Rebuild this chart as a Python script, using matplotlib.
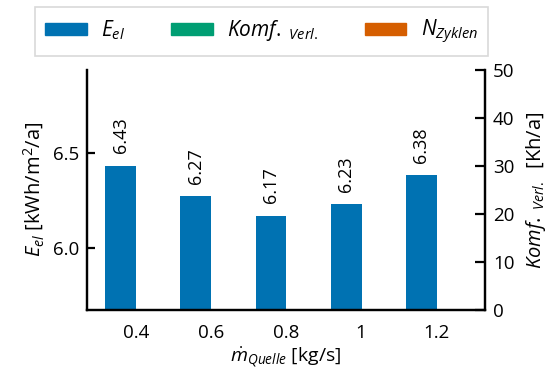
import numpy as np
import matplotlib
matplotlib.use("Agg")
import matplotlib.pyplot as plt
from matplotlib.patches import Patch

plt.rcParams['font.family'] = ['Open Sans', 'DejaVu Sans']
plt.rcParams['mathtext.fontset'] = 'custom'
plt.rcParams['mathtext.rm'] = 'Open Sans'
plt.rcParams['mathtext.it'] = 'Open Sans:italic'
plt.rcParams['mathtext.bf'] = 'Open Sans:bold'

categories = ["0.4", "0.6", "0.8", "1", "1.2"]
e_el = [6.43, 6.27, 6.17, 6.23, 6.38]

blue = "#0072B2"
green = "#009E73"
orange = "#D55E00"

fig = plt.figure(figsize=(5.49, 3.76), dpi=100)
ax = fig.add_axes([0.159, 0.176, 0.724, 0.638])
ax2 = ax.twinx()

x = np.arange(len(categories))
bars = ax.bar(x - 0.2, e_el, width=0.41, color=blue)
for xi, v in zip(x, e_el):
    ax.annotate(f"{v:.2f}", (xi - 0.2, v), xytext=(0, 9), textcoords="offset points",
                rotation=90, ha="center", va="bottom", fontsize=13)

ax.set_xlim(-0.645, 4.645)
ax.set_ylim(5.677, 6.932)
ax.set_yticks([6.0, 6.5])
ax.set_yticklabels(["6.0", "6.5"])
ax.set_xticks(x)
ax.set_xticklabels(categories)
ax2.set_ylim(0, 50)
ax2.set_yticks([0, 10, 20, 30, 40, 50])

for a in (ax, ax2):
    a.spines['top'].set_visible(False)
    for s in a.spines.values():
        s.set_linewidth(1.6)
ax.tick_params(axis='y', direction='in', length=6, width=1.6, labelsize=13.5, pad=6)
ax.tick_params(axis='x', length=0, labelsize=13.5, pad=10)
ax2.tick_params(axis='y', direction='in', length=7, width=1.6, labelsize=13.5, pad=6)

ax.set_xlabel(r"$\dot{m}_{Quelle}$ [kg/s]", fontsize=14, labelpad=3)
ax.set_ylabel(r"$E_{el}$ [kWh/m$^2$/a]", fontsize=14.5, labelpad=5)
ax2.set_ylabel(r"$Komf._{\ Verl.}$  [Kh/a]", fontsize=14.5, labelpad=7)

handles = [Patch(color=blue), Patch(color=green), Patch(color=orange)]
labels = [r"$E_{el}$", r"$Komf._{\ Verl.}$", r"$N_{Zyklen}$"]
leg = fig.legend(handles, labels, loc="center", bbox_to_anchor=(0.476, 0.915), ncol=3,
                 fontsize=15, handlelength=2.0, handleheight=0.45, columnspacing=2.2,
                 handletextpad=0.7, borderpad=0.5,
                 frameon=True, fancybox=False, edgecolor="#d0d0d0")
leg.get_frame().set_linewidth(1.2)

fig.savefig("out.png", dpi=100)
